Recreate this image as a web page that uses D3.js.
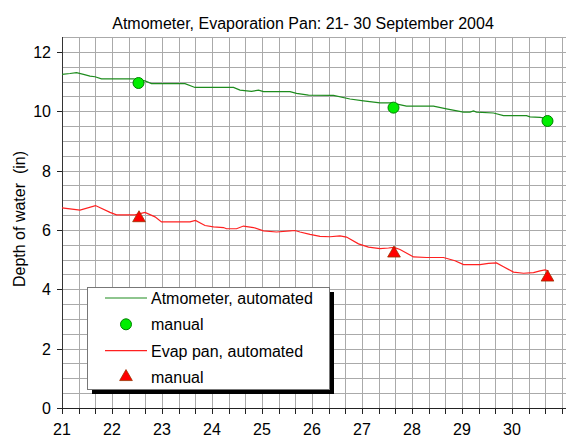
<!DOCTYPE html>
<html>
<head>
<meta charset="utf-8">
<script src="https://cdn.jsdelivr.net/npm/d3@7"></script>
<style>
  body { margin: 0; background: #fff; }
  text { font-family: "Liberation Sans", Arial, sans-serif; }
</style>
</head>
<body>
<script>
// readings taken off the chart (day of September, depth in inches)
var atmoDays  = [21.00, 21.16, 21.29, 21.43, 21.56, 21.66, 21.79, 22.43, 22.53, 22.66, 22.79, 23.46, 23.66, 24.43, 24.56, 24.79, 24.93, 25.03, 25.56, 25.69, 25.93, 26.43, 26.76, 27.03, 27.36, 27.59, 27.89, 28.43, 28.69, 29.03, 29.16, 29.23, 29.29, 29.63, 29.83, 30.29, 30.36, 30.56, 30.70];
var atmoDepth = [11.24, 11.27, 11.30, 11.24, 11.18, 11.16, 11.09, 11.09, 11.06, 11.02, 10.93, 10.93, 10.80, 10.80, 10.71, 10.67, 10.71, 10.66, 10.66, 10.60, 10.54, 10.53, 10.41, 10.35, 10.28, 10.28, 10.17, 10.17, 10.08, 9.97, 9.97, 10.01, 9.97, 9.94, 9.85, 9.85, 9.81, 9.79, 9.76];

var panDays  = [21.00, 21.20, 21.36, 21.67, 21.96, 22.09, 22.46, 22.66, 22.86, 22.99, 23.56, 23.67, 23.86, 24.03, 24.23, 24.29, 24.49, 24.63, 24.83, 25.03, 25.29, 25.56, 25.66, 25.76, 25.96, 26.16, 26.36, 26.56, 26.69, 26.93, 27.13, 27.36, 27.53, 27.64, 27.76, 28.03, 28.29, 28.63, 28.86, 29.03, 29.36, 29.53, 29.69, 29.83, 30.03, 30.23, 30.43, 30.56, 30.66, 30.73];
var panDepth = [6.74, 6.70, 6.67, 6.82, 6.59, 6.51, 6.51, 6.59, 6.44, 6.27, 6.27, 6.32, 6.15, 6.10, 6.08, 6.04, 6.04, 6.13, 6.08, 5.97, 5.93, 5.97, 5.98, 5.93, 5.85, 5.78, 5.77, 5.80, 5.76, 5.53, 5.42, 5.37, 5.39, 5.41, 5.34, 5.09, 5.07, 5.07, 4.96, 4.83, 4.83, 4.87, 4.89, 4.76, 4.58, 4.54, 4.56, 4.62, 4.65, 4.62];

var atmoManualDays  = [22.53, 27.63, 30.71];
var atmoManualDepth = [10.95, 10.12, 9.67];
var panManualDays   = [22.54, 27.64, 30.71];
var panManualDepth  = [6.40, 5.21, 4.40];

var xTickLabels = [21, 22, 23, 24, 25, 26, 27, 28, 29, 30];
var yTickLabels = [0, 2, 4, 6, 8, 10, 12];

var legendItems = [
  {label: "Atmometer, automated", kind: "line", color: "#1e8c1e"},
  {label: "manual", kind: "circle"},
  {label: "Evap pan, automated", kind: "line", color: "#ff2020"},
  {label: "manual", kind: "triangle"}
];

var svg = d3.select("body").append("svg").attr("width", 566).attr("height", 437);

var x = d3.scaleLinear().domain([21, 31.2]).range([62, 572]);
var y = d3.scaleLinear().domain([0, 12.5]).range([408, 37]);

var minorX = d3.range(0, 31).map(function(i) { return 21 + i / 3; });
var gridY = d3.range(0, 26).map(function(i) { return i / 2; });

// grid
svg.append("g").selectAll("line").data(minorX).enter().append("line")
    .attr("x1", function(d) { return Math.round(x(d)) + 0.5; })
    .attr("x2", function(d) { return Math.round(x(d)) + 0.5; })
    .attr("y1", y(12.5)).attr("y2", y(0))
    .attr("stroke", "#aaa");

svg.append("g").selectAll("line").data(gridY).enter().append("line")
    .attr("x1", x(21)).attr("x2", 572)
    .attr("y1", function(d) { return Math.round(y(d)) + 0.5; })
    .attr("y2", function(d) { return Math.round(y(d)) + 0.5; })
    .attr("stroke", "#aaa");

// axes
svg.append("line").attr("x1", 62.5).attr("x2", 62.5).attr("y1", y(12.5)).attr("y2", 408.5).attr("stroke", "#333");
svg.append("line").attr("x1", 62).attr("x2", 572).attr("y1", 408.5).attr("y2", 408.5).attr("stroke", "#222");

svg.append("g").selectAll("line").data(minorX).enter().append("line")
    .attr("x1", function(d) { return Math.round(x(d)) + 0.5; })
    .attr("x2", function(d) { return Math.round(x(d)) + 0.5; })
    .attr("y1", 408).attr("y2", 414)
    .attr("stroke", "#222");

svg.append("g").selectAll("line").data(yTickLabels).enter().append("line")
    .attr("x1", 57).attr("x2", 62)
    .attr("y1", function(d) { return Math.round(y(d)) + 0.5; })
    .attr("y2", function(d) { return Math.round(y(d)) + 0.5; })
    .attr("stroke", "#222");

svg.append("g").selectAll("text").data(yTickLabels).enter().append("text")
    .attr("x", 51).attr("y", function(d) { return y(d) + 6; })
    .attr("text-anchor", "end").style("font-size", "16px")
    .text(function(d) { return d; });

svg.append("g").selectAll("text").data(xTickLabels).enter().append("text")
    .attr("x", function(d) { return x(d); }).attr("y", 435)
    .attr("text-anchor", "middle").style("font-size", "16px")
    .text(function(d) { return d; });

svg.append("text")
    .attr("transform", "translate(25," + 219 + ") rotate(-90)")
    .attr("text-anchor", "middle").style("font-size", "16px").style("white-space", "pre")
    .text("Depth of water  (in)");

svg.append("text")
    .attr("x", 303).attr("y", 29)
    .attr("text-anchor", "middle").style("font-size", "16px")
    .text("Atmometer, Evaporation Pan: 21- 30 September 2004");

// series
var line = d3.line()
    .x(function(d) { return x(d[0]); })
    .y(function(d) { return y(d[1]); });

svg.append("path").datum(d3.zip(atmoDays, atmoDepth))
    .attr("d", line).attr("fill", "none").attr("stroke", "#1e8c1e").attr("stroke-width", 1.2);
svg.append("path").datum(d3.zip(panDays, panDepth))
    .attr("d", line).attr("fill", "none").attr("stroke", "#ff2020").attr("stroke-width", 1.2);

var circle = d3.symbol().type(d3.symbolCircle).size(95);
var triangle = d3.symbol().type(d3.symbolTriangle).size(70);

svg.append("g").selectAll("path").data(d3.zip(atmoManualDays, atmoManualDepth)).enter().append("path")
    .attr("d", circle)
    .attr("transform", function(d) { return "translate(" + x(d[0]) + "," + y(d[1]) + ")"; })
    .attr("fill", "#00ee00").attr("stroke", "#008000");

svg.append("g").selectAll("path").data(d3.zip(panManualDays, panManualDepth)).enter().append("path")
    .attr("d", triangle)
    .attr("transform", function(d) { return "translate(" + x(d[0]) + "," + y(d[1]) + ")"; })
    .attr("fill", "#ff0000").attr("stroke", "#993300").attr("stroke-width", 0.8);

// legend
var lg = svg.append("g").attr("transform", "translate(87,287)");
lg.append("rect").attr("x", 5).attr("y", 5).attr("width", 242).attr("height", 102).attr("fill", "#000");
lg.append("rect").attr("x", 0.5).attr("y", 0.5).attr("width", 242).attr("height", 102)
    .attr("fill", "#fff").attr("stroke", "#777");

var row = lg.selectAll(".row").data(legendItems).enter().append("g")
    .attr("transform", function(d, i) { return "translate(0," + (11 + i * 26.3) + ")"; });

row.each(function(d) {
  var g = d3.select(this);
  if (d.kind == "line") {
    g.append("line").attr("x1", 18).attr("x2", 60).attr("y1", 0).attr("y2", 0)
        .attr("stroke", d.color).attr("stroke-width", 1.2);
  } else if (d.kind == "circle") {
    g.append("path").attr("d", circle).attr("transform", "translate(39,0)")
        .attr("fill", "#00ee00").attr("stroke", "#008000");
  } else {
    g.append("path").attr("d", triangle).attr("transform", "translate(39,0)")
        .attr("fill", "#ff0000").attr("stroke", "#993300").attr("stroke-width", 0.8);
  }
  g.append("text").attr("x", 64).attr("y", 6).style("font-size", "16px").text(d.label);
});
</script>
</body>
</html>
